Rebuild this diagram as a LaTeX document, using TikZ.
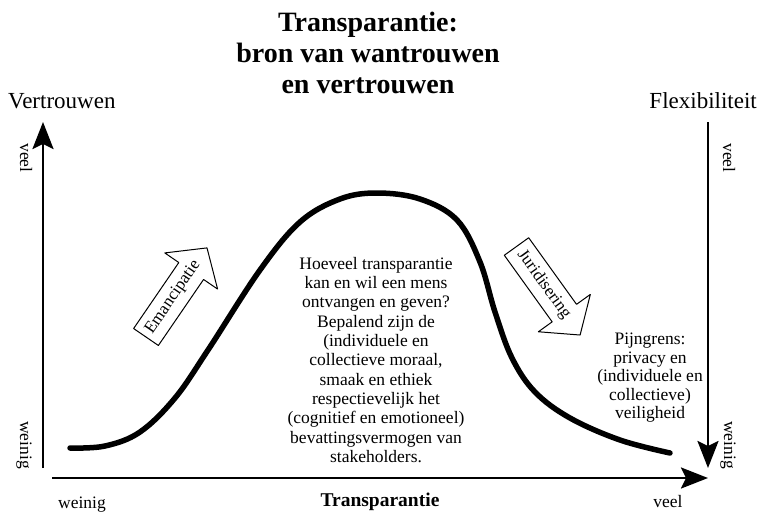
\documentclass[tikz,border=0pt]{standalone}
\usepackage{fontspec}
\setmainfont{Liberation Serif}
\usetikzlibrary{arrows.meta}

\begin{document}
\begin{tikzpicture}[line cap=round,line join=round,x=1pt,y=-1pt,
    axis/.style={line width=2.6pt,line cap=butt,-{Stealth[length=27pt,width=21pt,inset=5pt]}},
    blockarrow/.style={line width=1pt,fill=white},
    arrowtext/.style={inner sep=0pt,transform shape,font=\fontsize{17}{17}\selectfont},
    axistext/.style={inner sep=0pt,font=\fontsize{23}{23}\selectfont},
    endtext/.style={inner sep=0pt,font=\fontsize{17.5}{17.5}\selectfont}]
                \useasboundingbox (0,0) rectangle (760,515);
                % title
                \node[inner sep=0pt,anchor=north,align=center,font=\fontsize{28}{31}\selectfont\bfseries] (title) at (368,12) {Transparantie:\\bron van wantrouwen\\en vertrouwen};
                % axes
                \coordinate (vtBot) at (43,468);
                \coordinate (vtTop) at (43,122);
                \coordinate (flTop) at (708,122);
                \coordinate (flBot) at (708,468);
                \coordinate (trLeft) at (52,478);
                \coordinate (trRight) at (708,478);
                \draw [axis] (vtBot) -- (vtTop);
                \draw [axis] (flTop) -- (flBot);
                \draw [axis] (trLeft) -- (trRight);
                \node[axistext,anchor=base west] (vertrouwen) at (8,108) {Vertrouwen};
                \node[axistext,anchor=base east] (flexibiliteit) at (757,108) {Flexibiliteit};
                \node[endtext,rotate=-90] (vtVeel) at (26,158) {veel};
                \node[endtext,rotate=-90] (vtWeinig) at (24,445) {weinig};
                \node[endtext,rotate=-90] (flVeel) at (729,158) {veel};
                \node[endtext,rotate=-90] (flWeinig) at (728,445) {weinig};
                \node[endtext,anchor=base] (trWeinig) at (82,508) {weinig};
                \node[endtext,anchor=base] (trVeel) at (668,507) {veel};
                \node[inner sep=0pt,anchor=base,font=\fontsize{19.5}{19.5}\selectfont\bfseries] (transparantie) at (380,506) {Transparantie};
                % curve
                \draw [line width=5.5pt] plot [smooth,tension=0.6] coordinates {(70,448) (105,446) (140,432) (175,398) (208,350) (260,270) (300,222) (340,199) (377,193) (420,199) (457,220) (480,262) (495,312) (512,358) (535,392) (570,418) (620,440) (670,453)};
                % block arrows
                \begin{scope}[shift={(146,337)},rotate=55.6]
                    \draw [blockarrow] (0,-15) -- (80,-15) -- (80,-32) -- (108,0) -- (80,32) -- (80,15) -- (0,15) -- cycle;
                    \node[arrowtext] (emancipatie) at (48,0) {Emancipatie};
                \end{scope}
                \begin{scope}[shift={(516.5,246.5)},rotate=-54.3]
                    \draw [blockarrow] (0,-15) -- (82,-15) -- (82,-32) -- (109,0) -- (82,32) -- (82,15) -- (0,15) -- cycle;
                    \node[arrowtext] (juridisering) at (47,0) {Juridisering};
                \end{scope}
                % texts
                \node[inner sep=0pt,anchor=north,align=center,font=\fontsize{17.5}{19.3}\selectfont] (vraag) at (376,257) {Hoeveel transparantie\\kan en wil een mens\\ontvangen en geven?\\Bepalend zijn de\\(individuele en\\collectieve moraal,\\smaak en ethiek\\respectievelijk het\\(cognitief en emotioneel)\\bevattingsvermogen van\\stakeholders.};
                \node[inner sep=0pt,anchor=north,align=center,font=\fontsize{17.5}{18.5}\selectfont] (pijngrens) at (650,333) {Pijngrens:\\privacy en\\(individuele en\\collectieve)\\veiligheid};
\end{tikzpicture}
\end{document}
